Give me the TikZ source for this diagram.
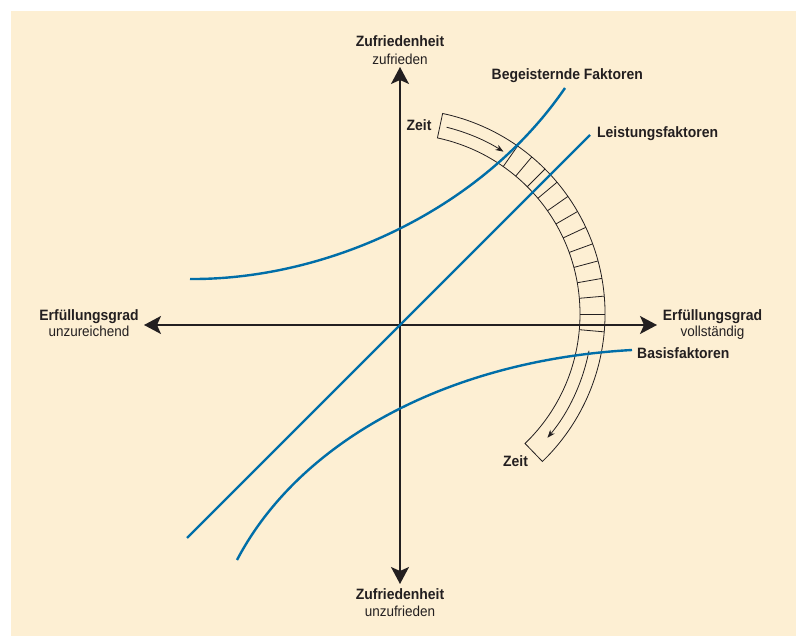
\documentclass[tikz,border=0pt]{standalone}
\usepackage{fontspec}
\setmainfont[FakeStretch=0.93]{Liberation Sans}
\usetikzlibrary{arrows.meta,calc}
\definecolor{bg}{RGB}{253,239,211}
\definecolor{curve}{RGB}{0,110,168}
\definecolor{ink}{RGB}{35,31,32}
\begin{document}
\begin{tikzpicture}[x=1pt,y=-1pt,
  bold/.style={font=\fontsize{15}{17}\selectfont\bfseries, text=ink, inner sep=0pt, anchor=base},
  reg/.style={font=\fontsize{14.5}{16}\selectfont, text=ink, inner sep=0pt, anchor=base},
  axis/.style={draw=ink, line width=1.5pt, {Stealth[length=17pt,width=18pt,inset=4pt]}-{Stealth[length=17pt,width=18pt,inset=4pt]}},
  factor/.style={draw=curve, line width=2.4pt},
  band/.style={draw=ink, line width=0.8pt},
  timearrow/.style={draw=ink, line width=0.8pt, -{Stealth[length=8pt,width=6pt]}}]
\useasboundingbox (0,0) rectangle (796,636);
\fill[white] (0,0) rectangle (796,636);
\fill[bg] (11,11) rectangle (796,636);

% coordinates
\coordinate (O) at (400,325);
\coordinate (C) at (400,314);
\coordinate (top) at (400,67);
\coordinate (bottom) at (400,584);
\coordinate (left) at (144,325);
\coordinate (right) at (657,325);

% time band
\draw[band] ($(C)+(78:205pt)$) arc[start angle=78, end angle=-46, radius=205pt]
  -- ($(C)+(-46:180pt)$) arc[start angle=-46, end angle=78, radius=180pt] -- cycle;
\foreach \a in {55,50,...,-5}
  \draw[band] ($(C)+(\a:180pt)$) -- ($(C)+(\a:205pt)$);
\draw[timearrow] ($(C)+(76:192.5pt)$) arc[start angle=76, end angle=57.5, radius=192.5pt];
\draw[timearrow] ($(C)+(-11:192.5pt)$) arc[start angle=-11, end angle=-40, radius=192.5pt];

% axes
\draw[axis] (bottom) -- (top);
\draw[axis] (left) -- (right);

% factor curves
\coordinate (b0) at (190,279);
\coordinate (b1) at (565,88);
\coordinate (l0) at (187,538);
\coordinate (l1) at (590,135);
\coordinate (s0) at (237,560);
\coordinate (s1) at (632,350);
\draw[factor] (b0) .. controls (325,280) and (480,212) .. (b1);
\draw[factor] (l0) -- (l1);
\draw[factor] (s0) .. controls (300,440) and (450,360) .. (s1);

% labels
\node[bold] (ztop) at (400,47) {Zufriedenheit};
\node[reg] (ztop2) at (400,65) {zufrieden};
\node[bold] (zbot) at (400,599) {Zufriedenheit};
\node[reg] (zbot2) at (400,616) {unzufrieden};
\node[bold] (eleft) at (89,320.7) {Erfüllungsgrad};
\node[reg] (eleft2) at (89,337) {unzureichend};
\node[bold] (eright) at (712.5,320.7) {Erfüllungsgrad};
\node[reg] (eright2) at (712.5,337) {vollständig};
\node[bold, anchor=base west] (begl) at (491.5,80) {Begeisternde Faktoren};
\node[bold, anchor=base west] (leil) at (597,138) {Leistungsfaktoren};
\node[bold, anchor=base west] (basl) at (637,359) {Basisfaktoren};
\node[bold] (zeit1) at (419,130.7) {Zeit};
\node[bold] (zeit2) at (515.5,466.7) {Zeit};
\end{tikzpicture}
\end{document}
